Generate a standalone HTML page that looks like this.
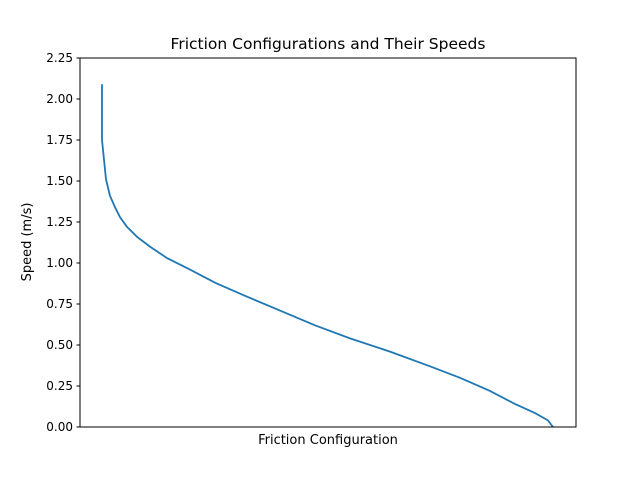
<!DOCTYPE html>
<html><head><meta charset="utf-8"><style>
body{margin:0;background:#fff;font-family:"Liberation Sans","DejaVu Sans",sans-serif}
svg text{font-family:"DejaVu Sans","Liberation Sans",sans-serif}
</style></head><body>
<svg id="chart" width="640" height="480" xmlns="http://www.w3.org/2000/svg">
<rect width="640" height="480" fill="#fff"/>
<text x="328" y="49" font-size="15.5" text-anchor="middle">Friction Configurations and Their Speeds</text>
<text x="328" y="444" font-size="13" text-anchor="middle">Friction Configuration</text>
<text transform="translate(31,242) rotate(-90)" font-size="13" text-anchor="middle">Speed (m/s)</text>
<g id="yticks"></g>
<path id="line" fill="none" stroke="#1f77b4" stroke-width="1.8"/>
<rect x="80" y="58" width="496" height="369" fill="none" stroke="#000" stroke-width="1"/>
</svg>
<script>
const configRank = [0,0,0.44,0.89,1.77,2.88,3.99,5.54,7.76,10.64,14.41,19.51,25.06,31.71,39.47,47.23,54.99,63.86,72.73,79.38,86.03,91.57,96.01,98.89,100];
const speeds = [2.09,1.75,1.63,1.51,1.41,1.34,1.28,1.22,1.16,1.10,1.03,0.96,0.88,0.80,0.71,0.62,0.54,0.46,0.37,0.30,0.22,0.14,0.085,0.04,0.0];
const yTickLabels = ["0.00","0.25","0.50","0.75","1.00","1.25","1.50","1.75","2.00","2.25"];
const X0=80,X1=576,Y0=427,Y1=58,YMAX=2.25;
const xs=v=>X0+(X1-X0)*(0.0444+0.9093*v/100);
const ys=v=>Y0-(Y0-Y1)*v/YMAX;
const ns="http://www.w3.org/2000/svg";
const g=document.getElementById('yticks');
yTickLabels.forEach(t=>{
  const y=ys(parseFloat(t));
  const l=document.createElementNS(ns,'line');
  l.setAttribute('x1',X0-3.5);l.setAttribute('x2',X0);l.setAttribute('y1',y);l.setAttribute('y2',y);
  l.setAttribute('stroke','#000');
  
  
  g.appendChild(l);
  const tx=document.createElementNS(ns,'text');
  tx.setAttribute('x',X0-7);tx.setAttribute('y',y+4);tx.setAttribute('font-size','12');tx.setAttribute('text-anchor','end');
  tx.textContent=t;
  
  
  g.appendChild(tx);
});
document.getElementById('line').setAttribute('d',configRank.map((r,i)=>(i?'L':'M')+xs(r).toFixed(1)+','+ys(speeds[i]).toFixed(1)).join(' '));
</script>
</body></html>
